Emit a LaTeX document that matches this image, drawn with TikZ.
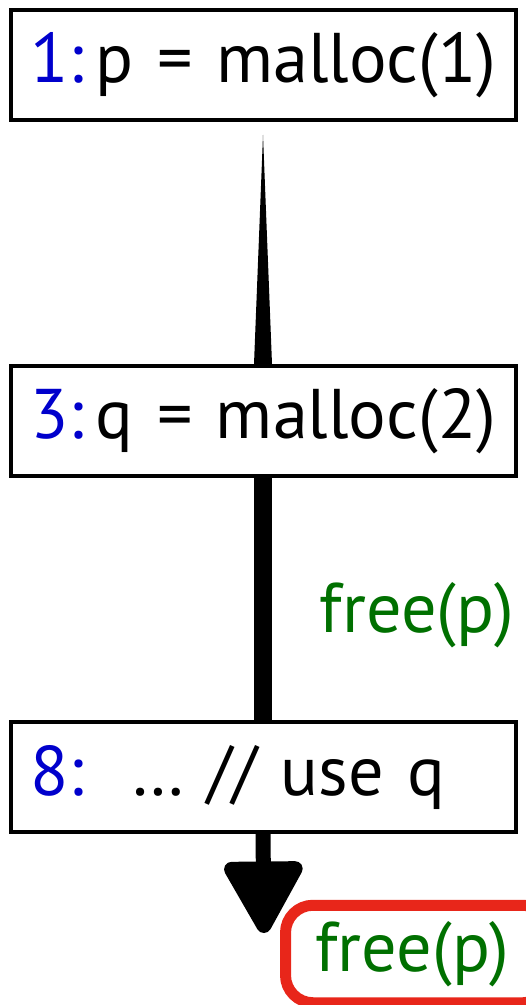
\documentclass[tikz,border=0pt]{standalone}
\usepackage{fontspec}
\setmainfont{PT Sans}[WordSpace=0.75]
\usetikzlibrary{arrows.meta,calc}
\definecolor{lineno}{RGB}{0,0,204}
\definecolor{freegreen}{RGB}{0,112,0}
\definecolor{markred}{RGB}{232,38,26}
\tikzset{
  stmt/.style={draw,line width=0.08cm,minimum height=2.2cm,text width=9.3cm,
    align=left,inner xsep=0.4cm,font=\fontsize{40}{44}\selectfont},
  freelbl/.style={text=freegreen,font=\fontsize{40}{44}\selectfont}
}
\begin{document}
\begin{tikzpicture}[x=1cm,y=1cm]
\useasboundingbox (0,0) rectangle (10.5,-20.1);

\node[stmt] (s1) at (5.26,-1.30) {\mbox{\textcolor{lineno}{1:}\,p = malloc(1)}};
\node[stmt] (s3) at (5.26,-8.42) {\mbox{\textcolor{lineno}{3:}\,q = malloc(2)}};
\node[stmt] (s8) at (5.26,-15.54) {\mbox{\textcolor{lineno}{8:}\ \ \dots\ // use q}};

% tapered edge 1 -> 3
\fill ($(s1.south)+(0,-0.26)$) -- ($(s3.north)+(-0.18,0)$) -- ($(s3.north)+(0.18,0)$) -- cycle;

\draw[line width=0.36cm] (s3.south) -- (s8.north);
\node[freelbl,anchor=base east,inner sep=0pt] (fmid) at (10.28,-12.64) {free(p)};

\coordinate (tip) at (5.28,-18.66);
\draw[line width=0.3cm,-{Triangle[length=1.6cm,width=1.7cm,round]}] (s8.south) -- (tip);

\node[freelbl,draw=markred,line width=0.22cm,rounded corners=0.55cm,
  minimum width=5.3cm,minimum height=1.95cm,text width=4.1cm,align=left,
  inner xsep=0.55cm] (fend) at (8.36,-19.08) {free(p)};
\end{tikzpicture}
\end{document}
